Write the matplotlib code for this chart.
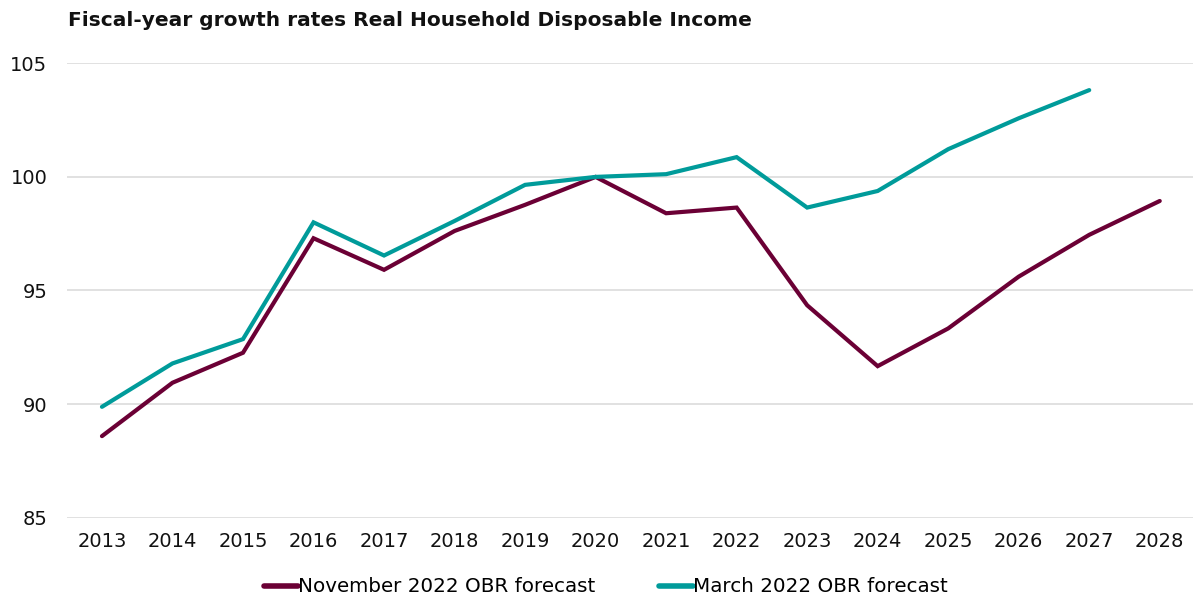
import matplotlib
matplotlib.use("Agg")
import matplotlib.pyplot as plt

years = [2013, 2014, 2015, 2016, 2017, 2018, 2019, 2020, 2021, 2022, 2023, 2024, 2025, 2026, 2027, 2028]
nov_2022 = [88.59, 90.94, 92.26, 97.30, 95.91, 97.62, 98.77, 100.0, 98.40, 98.65, 94.35, 91.67, 93.33, 95.61, 97.45, 98.94]
mar_years = [2013, 2014, 2015, 2016, 2017, 2018, 2019, 2020, 2021, 2022, 2023, 2024, 2025, 2026, 2027]
mar_2022 = [89.88, 91.79, 92.86, 98.00, 96.54, 98.06, 99.65, 100.0, 100.12, 100.87, 98.65, 99.38, 101.22, 102.58, 103.82]
yticks = [85, 90, 95, 100, 105]
title = "Fiscal-year growth rates Real Household Disposable Income"
labels = ["November 2022 OBR forecast", "March 2022 OBR forecast"]
colors = ["#6B0035", "#009B9A"]

plt.rcParams['font.family'] = ['DejaVu Sans']
W, H = 1193, 599
fig = plt.figure(figsize=(W / 100, H / 100), dpi=100)
left, right = 66.7, 1195.0
top, bottom = 63.3, 517.7
ax = fig.add_axes([left / W, 1 - bottom / H, (right - left) / W, (bottom - top) / H])

ax.plot(years, nov_2022, color=colors[0], lw=3.0, label=labels[0], solid_capstyle='round', solid_joinstyle='miter')
ax.plot(mar_years, mar_2022, color=colors[1], lw=3.0, label=labels[1], solid_capstyle='round', solid_joinstyle='miter')

ax.set_xlim(2012.5, 2028.5)
ax.set_ylim(85, 105)
ax.set_yticks(yticks)
ax.set_xticks(years)
ax.set_xticklabels([str(y) for y in years])
ax.grid(axis='y', color='#D9D9D9', lw=1.1)
ax.set_axisbelow(True)
for s in ax.spines.values():
    s.set_visible(False)
ax.tick_params(axis='both', length=0, labelsize=14, colors='#111111')
ax.tick_params(axis='y', pad=14)
ax.tick_params(axis='x', pad=10)
for t in ax.get_yticklabels():
    t.set_horizontalalignment('right')

fig.text(68 / W, 1 - 20 / H, title, fontsize=14.5, fontweight='bold', va='center', ha='left', color='#111111')

leg = fig.legend(loc='center', bbox_to_anchor=(606 / W, 1 - 587 / H), ncol=2, frameon=False,
                 fontsize=14.3, handlelength=1.7, handletextpad=0.0, columnspacing=3.2)
for l in leg.get_lines():
    l.set_linewidth(4)

fig.savefig("out.png", dpi=100)
